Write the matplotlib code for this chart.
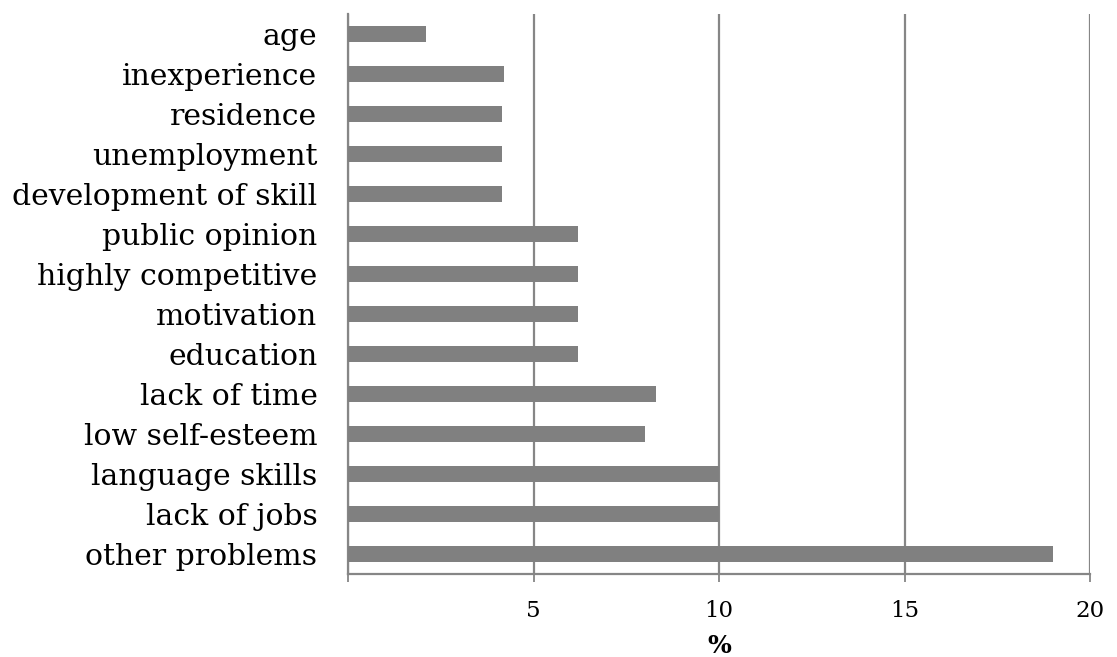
import numpy as np
import matplotlib
matplotlib.use("Agg")
import matplotlib.pyplot as plt

plt.rcParams['font.family'] = ['DejaVu Serif']

# data, top to bottom as shown
categories = ['age', 'inexperience', 'residence', 'unemployment',
              'development of skill', 'public opinion', 'highly competitive',
              'motivation', 'education', 'lack of time', 'low self-esteem',
              'language skills', 'lack of jobs', 'other problems']
values = [2.1, 4.2, 4.15, 4.15, 4.15, 6.2, 6.2, 6.2, 6.2, 8.3, 8.0, 10.0, 10.0, 19.0]
xticks = [0, 5, 10, 15, 20]
xticklabels = ['', '5', '10', '15', '20']

grid_col = '#868686'

fig = plt.figure(figsize=(11.17, 6.57), dpi=100)
ax = fig.add_axes([0.3115, 0.1263, 0.976 - 0.3115, 0.8524])

ypos = np.arange(len(categories))
ax.barh(ypos, values, height=0.4, color='#808080', zorder=3)

ax.set_ylim(len(categories) - 0.5, -0.5)
ax.set_xlim(0, 20)
ax.set_yticks(ypos)
ax.set_yticklabels(categories, fontsize=21.5)
ax.tick_params(axis='y', length=0, pad=22)
ax.set_xticks(xticks)
ax.set_xticklabels(xticklabels, fontsize=16.5)
ax.tick_params(axis='x', direction='out', length=6, width=1.3, color=grid_col, pad=13)

ax.xaxis.grid(True, color=grid_col, linewidth=1.6, zorder=0)
for s in ['top', 'right']:
    ax.spines[s].set_visible(False)
for s in ['left', 'bottom']:
    ax.spines[s].set_color(grid_col)
    ax.spines[s].set_linewidth(1.6)

ax.set_xlabel('%', fontsize=18, fontweight='bold', labelpad=8)

fig.savefig('out.png', dpi=100)
